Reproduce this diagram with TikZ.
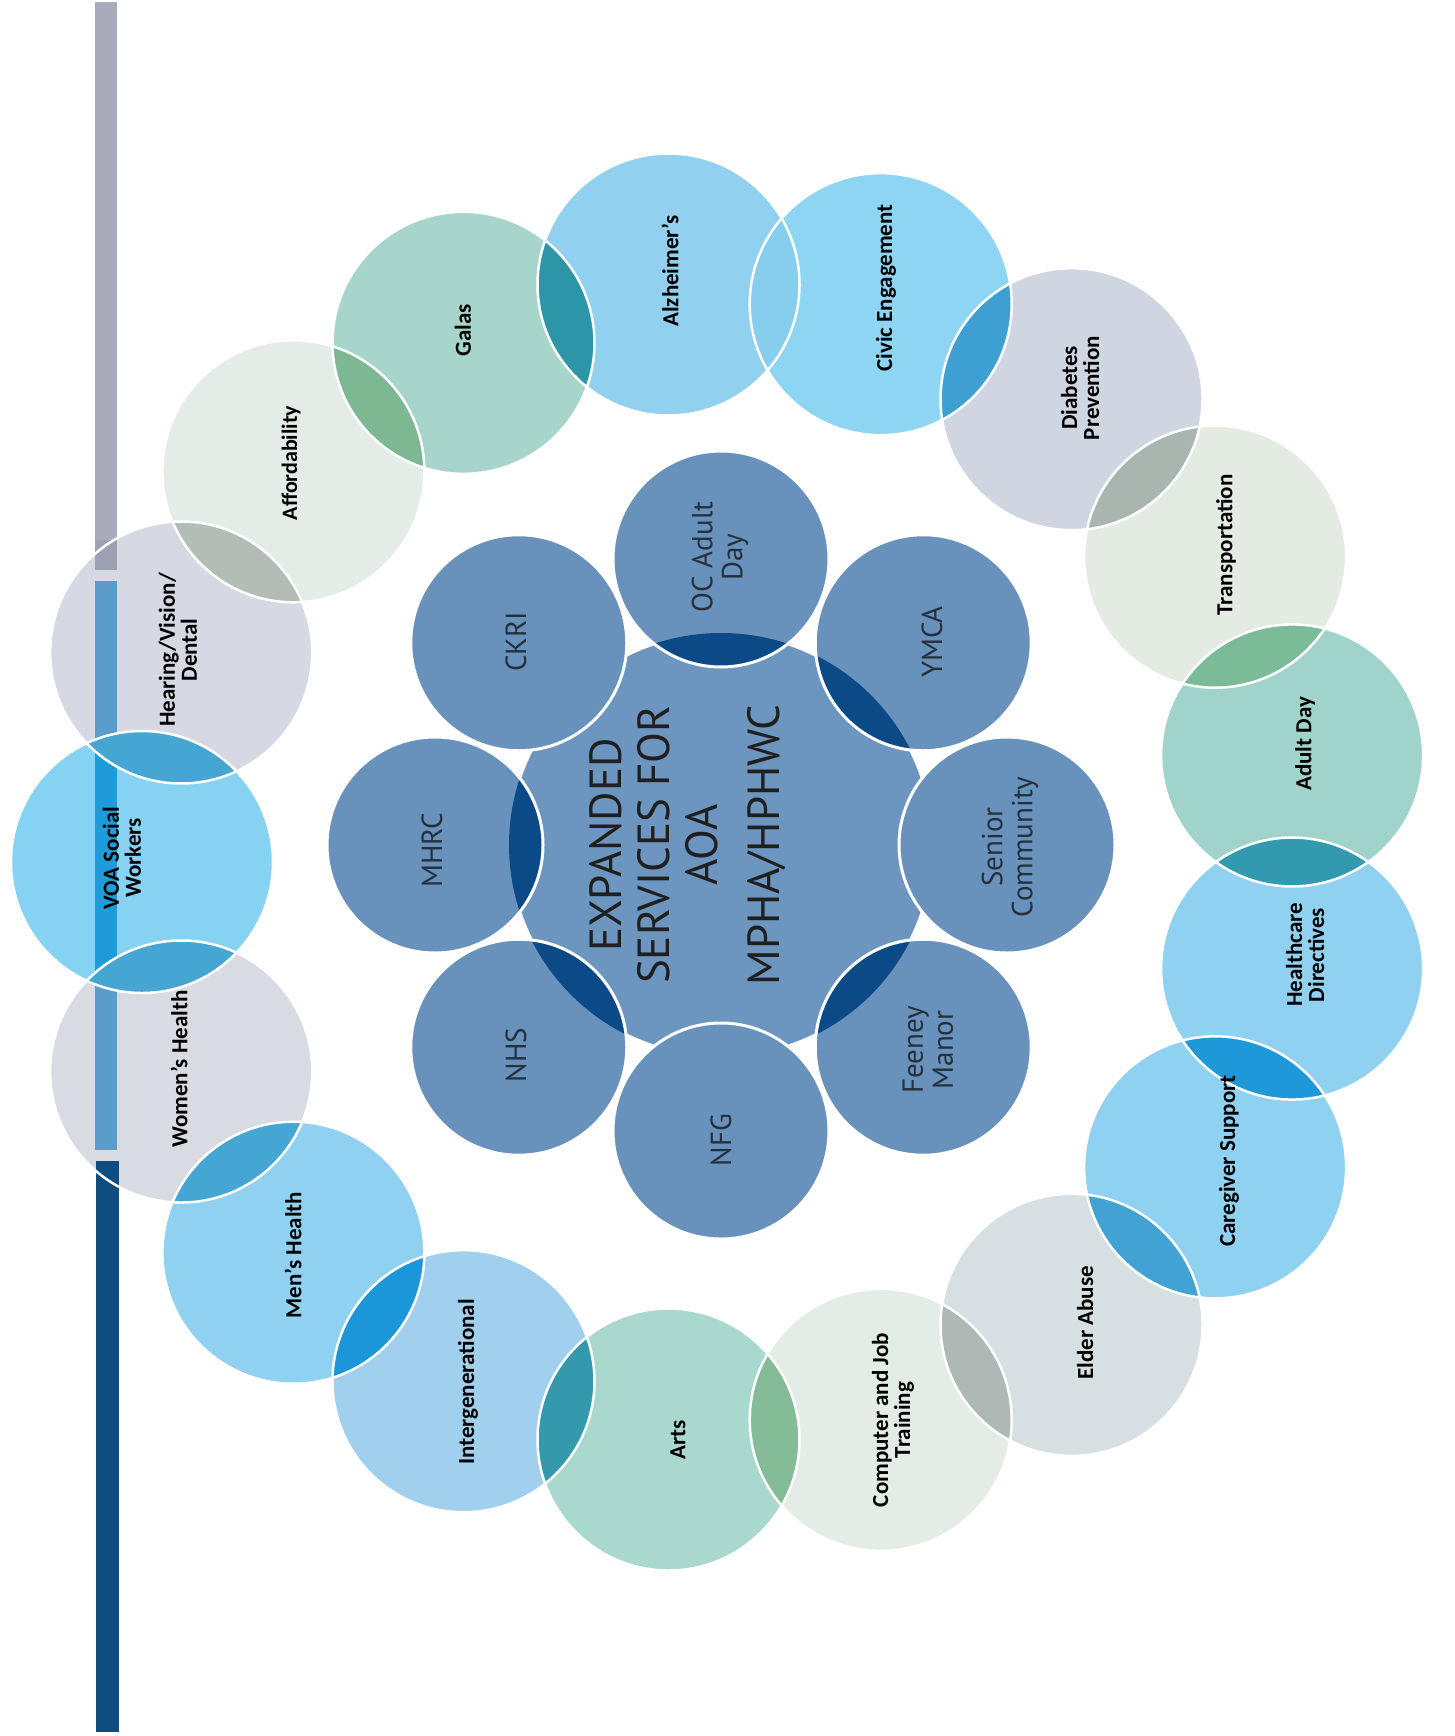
\documentclass[tikz,border=0pt]{standalone}
\usepackage{fontspec}
\setmainfont{Carlito}
\newfontfamily\innerfont{PT Sans}
\usetikzlibrary{calc}
% outer fills
\definecolor{cVOA}{HTML}{86D2F2}
\definecolor{cHear}{HTML}{D6D9E3}
\definecolor{cAff}{HTML}{E3ECE6}
\definecolor{cGal}{HTML}{A8D5CB}
\definecolor{cAlz}{HTML}{92D0EF}
\definecolor{cCiv}{HTML}{8ED4F3}
\definecolor{cDia}{HTML}{CFD6E2}
\definecolor{cTra}{HTML}{E3EBE3}
\definecolor{cAdu}{HTML}{A0D4CA}
\definecolor{cHea}{HTML}{90D1F1}
\definecolor{cCar}{HTML}{8FD1F1}
\definecolor{cEld}{HTML}{D6DFE2}
\definecolor{cCom}{HTML}{E4ECE6}
\definecolor{cArt}{HTML}{A8D8CE}
\definecolor{cInt}{HTML}{A0D0EE}
\definecolor{cMen}{HTML}{90D1F1}
\definecolor{cWom}{HTML}{D9DBE3}
% lens colours
\definecolor{lA}{HTML}{45A5D3}
\definecolor{lB}{HTML}{B2BDB6}
\definecolor{lC}{HTML}{7DB892}
\definecolor{lD}{HTML}{2D95A8}
\definecolor{lE}{HTML}{86CDEE}
\definecolor{lF}{HTML}{3D9FD2}
\definecolor{lG}{HTML}{A9B6AF}
\definecolor{lH}{HTML}{7BBB97}
\definecolor{lI}{HTML}{3399AE}
\definecolor{lJ}{HTML}{1F98DA}
\definecolor{lK}{HTML}{41A2D3}
\definecolor{lL}{HTML}{AEB9B5}
\definecolor{lM}{HTML}{85BC98}
\definecolor{lN}{HTML}{3499AC}
\definecolor{lO}{HTML}{1B96D8}
\definecolor{lP}{HTML}{45A5D3}
\definecolor{lQ}{HTML}{45A5D3}
% inner
\definecolor{hubcol}{HTML}{6C96BF}
\definecolor{petalcol}{HTML}{6892BC}
\definecolor{darklens}{HTML}{0B4A87}
\definecolor{innertext}{HTML}{24303C}
% bar
\definecolor{barGray}{HTML}{A8ABBC}
\definecolor{barGrayD}{HTML}{9EA1B2}
\definecolor{barMid}{HTML}{5B9CCA}
\definecolor{barBright}{HTML}{1E9BDA}
\definecolor{barNavy}{HTML}{0F4D80}
\begin{document}
\begin{tikzpicture}[x=1pt,y=1pt,
  outerlabel/.style={font=\bfseries\fontsize{23}{22}\selectfont, rotate=90, align=center, text=black, inner sep=0pt},
  innerlabel/.style={font=\innerfont\fontsize{29}{30}\selectfont, rotate=90, align=center, text=innertext, inner sep=0pt},
  hubtext/.style={font=\innerfont\fontsize{45}{48}\selectfont, rotate=90, align=center, text=black!88, inner sep=0pt},
  whiteline/.style={draw=white, line width=3pt}]
\useasboundingbox (0,0) rectangle (1454,-1736);
\fill[white] (0,0) rectangle (1454,-1736);

\coordinate (ring) at (722,-862);
\coordinate (hub) at (721,-845);

% ---------- outer ring ----------
\foreach \k/\n in {0/voa,1/hear,2/aff,3/gal,4/alz,5/civ,6/dia,7/tra,8/adu,9/hea,10/car,11/eld,12/com,13/art,14/int,15/men,16/wom}{
  \coordinate (\n) at ($(ring)+({180-\k*360/17}:580)$);
}
\foreach \n/\c in {voa/cVOA,hear/cHear,aff/cAff,gal/cGal,alz/cAlz,civ/cCiv,dia/cDia,tra/cTra,adu/cAdu,hea/cHea,car/cCar,eld/cEld,com/cCom,art/cArt,int/cInt,men/cMen,wom/cWom}{
  \fill[\c] (\n) circle (131);
}
% vertical bar
\fill[barGray] (95,-2) rectangle (117,-540);
\fill[barGrayD] (95,-540) rectangle (117,-570);
\fill[barMid] (95,-581) rectangle (117,-740);
\fill[barBright] (95,-740) rectangle (117,-985);
\fill[barMid] (95,-985) rectangle (117,-1150);
\fill[barNavy] (96,-1161) rectangle (119,-1732);
% lenses
\foreach \a/\b/\l in {voa/hear/lA,hear/aff/lB,aff/gal/lC,gal/alz/lD,alz/civ/lE,civ/dia/lF,dia/tra/lG,tra/adu/lH,adu/hea/lI,hea/car/lJ,car/eld/lK,eld/com/lL,com/art/lM,art/int/lN,int/men/lO,men/wom/lP,wom/voa/lQ}{
  \begin{scope}
    \clip (\a) circle (131);
    \fill[\l] (\b) circle (131);
  \end{scope}
}
\foreach \n in {voa,hear,aff,gal,alz,civ,dia,tra,adu,hea,car,eld,com,art,int,men,wom}{
  \draw[draw=white, line width=2.5pt] (\n) circle (131);
}

% ---------- hub ----------
\fill[hubcol] (hub) circle (212);
\draw[whiteline] (hub) circle (212);
\foreach \a/\n in {90/oc,45/ymca,0/senior,-45/feeney,-90/nfg,-135/nhs,180/mhrc,135/ckri}{
  \coordinate (\n) at ($(hub)+(\a:286)$);
  \fill[petalcol] (\n) circle (108);
}
\foreach \n in {oc,ymca,feeney,nhs,mhrc}{
  \begin{scope}
    \clip (hub) circle (212);
    \fill[darklens] (\n) circle (108);
  \end{scope}
}
\foreach \n in {oc,ymca,senior,feeney,nfg,nhs,mhrc,ckri}{
  \draw[whiteline] (\n) circle (108);
}

% ---------- labels ----------
\node[hubtext] (centre) at (688,-845) {EXPANDED\\SERVICES FOR\\AOA\\[14pt]MPHA/HPHWC};

\node[innerlabel] (toc) at (720,-557) {OC Adult\\Day};
\node[innerlabel] (tymca) at (932,-642) {YMCA};
\node[innerlabel] (tsenior) at (1010,-847) {Senior\\Community};
\node[innerlabel] (tfeeney) at (928,-1050) {Feeney\\Manor};
\node[innerlabel] (tnfg) at (721,-1140) {NFG};
\node[innerlabel] (tnhs) at (516,-1055) {NHS};
\node[innerlabel] (tmhrc) at (432,-850) {MHRC};
\node[innerlabel] (tckri) at (516,-642) {CKRI};

\node[outerlabel] (lhear) at (178,-650) {Hearing/Vision/\\Dental};
\node[outerlabel, font=\bfseries\fontsize{22}{22}\selectfont] (laff) at (291,-463) {Affordability};
\node[outerlabel] (lgal) at (463,-330) {Galas};
\node[outerlabel] (lalz) at (670,-271) {Alzheimer's};
\node[outerlabel] (lciv) at (886,-288) {Civic Engagement};
\node[outerlabel] (ldia) at (1080,-388) {Diabetes\\Prevention};
\node[outerlabel] (ltra) at (1226,-545) {Transportation};
\node[outerlabel] (ladu) at (1305,-744) {Adult Day};
\node[outerlabel] (lhea) at (1305,-955) {Healthcare\\Directives};
\node[outerlabel] (lcar) at (1229,-1161) {Caregiver Support};
\node[outerlabel] (leld) at (1085,-1323) {Elder Abuse};
\node[outerlabel] (lcom) at (893,-1420) {Computer and Job\\Training};
\node[outerlabel] (lart) at (678,-1440) {Arts};
\node[outerlabel] (lint) at (468,-1382) {Intergenerational};
\node[outerlabel] (lmen) at (293,-1255) {Men's Health};
\node[outerlabel] (lwom) at (179,-1069) {Women's Health};
\node[outerlabel] (lvoa) at (122,-858) {VOA Social\\Workers};
\end{tikzpicture}
\end{document}
